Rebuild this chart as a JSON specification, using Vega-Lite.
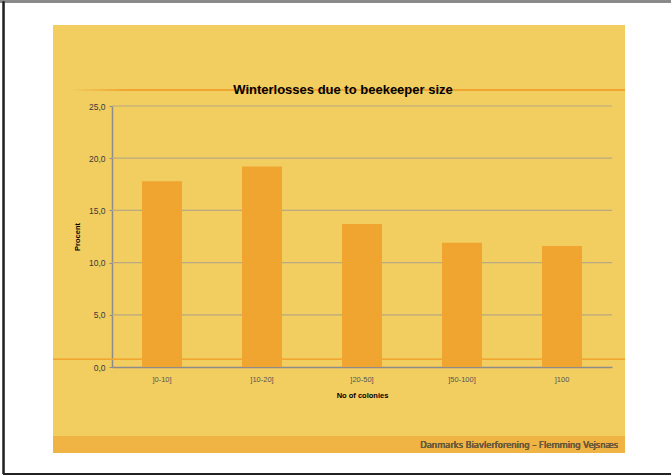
{
  "$schema": "https://vega.github.io/schema/vega-lite/v6.json",
  "width": 572,
  "height": 428,
  "autosize": {"type": "none"},
  "padding": {"left": 53, "top": 25, "right": 46, "bottom": 23},
  "background": "#ffffff",
  "config": {
    "view": {"fill": "#F2CD60", "stroke": null},
    "font": "Liberation Sans"
  },
  "title": {
    "text": "Winterlosses due to beekeeper size",
    "anchor": "middle",
    "frame": "group",
    "fontSize": 13,
    "fontWeight": "bold",
    "font": "Liberation Sans",
    "color": "#000000",
    "baseline": "alphabetic",
    "offset": 0,
    "dy": 106,
    "dx": 4
  },
  "data": {
    "values": [
      {"size": "]0-10]", "value": 17.8},
      {"size": "]10-20]", "value": 19.2},
      {"size": "]20-50]", "value": 13.7},
      {"size": "]50-100]", "value": 11.9},
      {"size": "]100", "value": 11.6}
    ]
  },
  "resolve": {"scale": {"x": "independent"}},
  "layer": [
    {
      "mark": {"type": "rect", "color": "#EFB443", "clip": false},
      "encoding": {
        "x": {"datum": 0, "type": "quantitative", "scale": {"domain": [0, 1], "nice": false, "zero": false}, "axis": null},
        "x2": {"datum": 1},
        "y": {"datum": -6.61, "type": "quantitative", "scale": {"domain": [0, 25], "range": [342, 81], "nice": false},
          "axis": {"title": "Procent", "titleFontSize": 7.5, "titleFontWeight": "bold", "titleColor": "#000000", "titlePadding": 7, "values": [0, 5, 10, 15, 20, 25], "labelExpr": "replace(format(datum.value, '.1f'), '.', ',')", "labelFontSize": 8.5, "labelColor": "#3A3A3A", "labelPadding": 4, "tickSize": 3, "tickColor": "#8C8C8C", "domainColor": "#8C8C8C", "domainWidth": 1.5, "grid": false, "offset": -59}},
        "y2": {"datum": -8.24}
      }
    },
    {
      "data": {"values": [{"tick": 5}, {"tick": 10}, {"tick": 15}, {"tick": 20}, {"tick": 25}]},
      "mark": {"type": "rule", "color": "#B8A983", "strokeWidth": 1.2, "clip": false},
      "encoding": {
        "x": {"datum": 0.1031, "type": "quantitative", "scale": {"domain": [0, 1], "nice": false, "zero": false}, "axis": null},
        "x2": {"datum": 0.9773},
        "y": {"field": "tick", "type": "quantitative", "scale": {"domain": [0, 25], "range": [342, 81], "nice": false},
          "axis": {"title": "Procent", "titleFontSize": 7.5, "titleFontWeight": "bold", "titleColor": "#000000", "titlePadding": 7, "values": [0, 5, 10, 15, 20, 25], "labelExpr": "replace(format(datum.value, '.1f'), '.', ',')", "labelFontSize": 8.5, "labelColor": "#3A3A3A", "labelPadding": 4, "tickSize": 3, "tickColor": "#8C8C8C", "domainColor": "#8C8C8C", "domainWidth": 1.5, "grid": false, "offset": -59}}
      }
    },
    {
      "mark": {
        "type": "rect",
        "clip": false,
        "color": {
          "gradient": "linear",
          "x1": 0, "y1": 0, "x2": 1, "y2": 0,
          "stops": [
            {"offset": 0, "color": "#F2CD60"},
            {"offset": 0.1, "color": "#EFA530"},
            {"offset": 1, "color": "#EFA530"}
          ]
        }
      },
      "encoding": {
        "x": {"datum": 0.03, "type": "quantitative", "scale": {"domain": [0, 1], "nice": false, "zero": false}, "axis": null},
        "x2": {"datum": 1},
        "y": {"datum": 26.63, "type": "quantitative", "scale": {"domain": [0, 25], "range": [342, 81], "nice": false},
          "axis": {"title": "Procent", "titleFontSize": 7.5, "titleFontWeight": "bold", "titleColor": "#000000", "titlePadding": 7, "values": [0, 5, 10, 15, 20, 25], "labelExpr": "replace(format(datum.value, '.1f'), '.', ',')", "labelFontSize": 8.5, "labelColor": "#3A3A3A", "labelPadding": 4, "tickSize": 3, "tickColor": "#8C8C8C", "domainColor": "#8C8C8C", "domainWidth": 1.5, "grid": false, "offset": -59}},
        "y2": {"datum": 26.44}
      }
    },
    {
      "mark": {"type": "rule", "color": "#EFA530", "strokeWidth": 1, "opacity": 0.7, "clip": false},
      "encoding": {
        "x": {"datum": 0, "type": "quantitative", "scale": {"domain": [0, 1], "nice": false, "zero": false}, "axis": null},
        "x2": {"datum": 1},
        "y": {"datum": 0.74, "type": "quantitative", "scale": {"domain": [0, 25], "range": [342, 81], "nice": false},
          "axis": {"title": "Procent", "titleFontSize": 7.5, "titleFontWeight": "bold", "titleColor": "#000000", "titlePadding": 7, "values": [0, 5, 10, 15, 20, 25], "labelExpr": "replace(format(datum.value, '.1f'), '.', ',')", "labelFontSize": 8.5, "labelColor": "#3A3A3A", "labelPadding": 4, "tickSize": 3, "tickColor": "#8C8C8C", "domainColor": "#8C8C8C", "domainWidth": 1.5, "grid": false, "offset": -59}}
      }
    },
    {
      "mark": {"type": "bar", "color": "#EFA530"},
      "encoding": {
        "x": {
          "field": "size",
          "type": "nominal",
          "sort": null,
          "scale": {"range": [59, 559], "paddingInner": 0.6, "paddingOuter": 0.3},
          "axis": {
            "title": "No of colonies",
            "titleFontSize": 7.5,
            "titleFontWeight": "bold",
            "titleColor": "#000000",
            "titlePadding": 9,
            "labelAngle": 0,
            "labelFontSize": 7.5,
            "labelColor": "#555555",
            "labelPadding": 8,
            "ticks": false,
            "domainColor": "#8C8C8C",
            "domainWidth": 1.5,
            "grid": false,
            "offset": -86
          }
        },
        "y": {
          "field": "value",
          "type": "quantitative",
          "scale": {"domain": [0, 25], "range": [342, 81], "nice": false},
          "axis": {"title": "Procent", "titleFontSize": 7.5, "titleFontWeight": "bold", "titleColor": "#000000", "titlePadding": 7, "values": [0, 5, 10, 15, 20, 25], "labelExpr": "replace(format(datum.value, '.1f'), '.', ',')", "labelFontSize": 8.5, "labelColor": "#3A3A3A", "labelPadding": 4, "tickSize": 3, "tickColor": "#8C8C8C", "domainColor": "#8C8C8C", "domainWidth": 1.5, "grid": false, "offset": -59}
        }
      }
    },
    {
      "mark": {"type": "text", "align": "right", "baseline": "middle", "font": "DejaVu Sans", "fontSize": 8.4, "color": "#6B5B3A", "clip": false},
      "encoding": {
        "text": {"value": "Danmarks Biavlerforening – Flemming Vejsnæs"},
        "x": {"datum": 0.988, "type": "quantitative", "scale": {"domain": [0, 1], "nice": false, "zero": false}, "axis": null},
        "y": {"datum": -7.45, "type": "quantitative", "scale": {"domain": [0, 25], "range": [342, 81], "nice": false},
          "axis": {"title": "Procent", "titleFontSize": 7.5, "titleFontWeight": "bold", "titleColor": "#000000", "titlePadding": 7, "values": [0, 5, 10, 15, 20, 25], "labelExpr": "replace(format(datum.value, '.1f'), '.', ',')", "labelFontSize": 8.5, "labelColor": "#3A3A3A", "labelPadding": 4, "tickSize": 3, "tickColor": "#8C8C8C", "domainColor": "#8C8C8C", "domainWidth": 1.5, "grid": false, "offset": -59}}
      }
    },
    {
      "mark": {"type": "rule", "color": "#888888", "strokeWidth": 2, "clip": false},
      "encoding": {
        "x": {"datum": -0.0927, "type": "quantitative", "scale": {"domain": [0, 1], "nice": false, "zero": false}, "axis": null},
        "x2": {"datum": 1.081},
        "y": {"datum": 35.0, "type": "quantitative", "scale": {"domain": [0, 25], "range": [342, 81], "nice": false},
          "axis": {"title": "Procent", "titleFontSize": 7.5, "titleFontWeight": "bold", "titleColor": "#000000", "titlePadding": 7, "values": [0, 5, 10, 15, 20, 25], "labelExpr": "replace(format(datum.value, '.1f'), '.', ',')", "labelFontSize": 8.5, "labelColor": "#3A3A3A", "labelPadding": 4, "tickSize": 3, "tickColor": "#8C8C8C", "domainColor": "#8C8C8C", "domainWidth": 1.5, "grid": false, "offset": -59}}
      }
    },
    {
      "mark": {"type": "rule", "color": "#222222", "strokeWidth": 2, "clip": false},
      "encoding": {
        "x": {"datum": -0.0865, "type": "quantitative", "scale": {"domain": [0, 1], "nice": false, "zero": false}, "axis": null},
        "x2": {"datum": 1.081},
        "y": {"datum": -10.25, "type": "quantitative", "scale": {"domain": [0, 25], "range": [342, 81], "nice": false},
          "axis": {"title": "Procent", "titleFontSize": 7.5, "titleFontWeight": "bold", "titleColor": "#000000", "titlePadding": 7, "values": [0, 5, 10, 15, 20, 25], "labelExpr": "replace(format(datum.value, '.1f'), '.', ',')", "labelFontSize": 8.5, "labelColor": "#3A3A3A", "labelPadding": 4, "tickSize": 3, "tickColor": "#8C8C8C", "domainColor": "#8C8C8C", "domainWidth": 1.5, "grid": false, "offset": -59}}
      }
    },
    {
      "mark": {"type": "rule", "color": "#222222", "strokeWidth": 1.5, "clip": false},
      "encoding": {
        "x": {"datum": -0.0865, "type": "quantitative", "scale": {"domain": [0, 1], "nice": false, "zero": false}, "axis": null},
        "y": {"datum": 35.0, "type": "quantitative", "scale": {"domain": [0, 25], "range": [342, 81], "nice": false},
          "axis": {"title": "Procent", "titleFontSize": 7.5, "titleFontWeight": "bold", "titleColor": "#000000", "titlePadding": 7, "values": [0, 5, 10, 15, 20, 25], "labelExpr": "replace(format(datum.value, '.1f'), '.', ',')", "labelFontSize": 8.5, "labelColor": "#3A3A3A", "labelPadding": 4, "tickSize": 3, "tickColor": "#8C8C8C", "domainColor": "#8C8C8C", "domainWidth": 1.5, "grid": false, "offset": -59}},
        "y2": {"datum": -10.25}
      }
    }
  ]
}
